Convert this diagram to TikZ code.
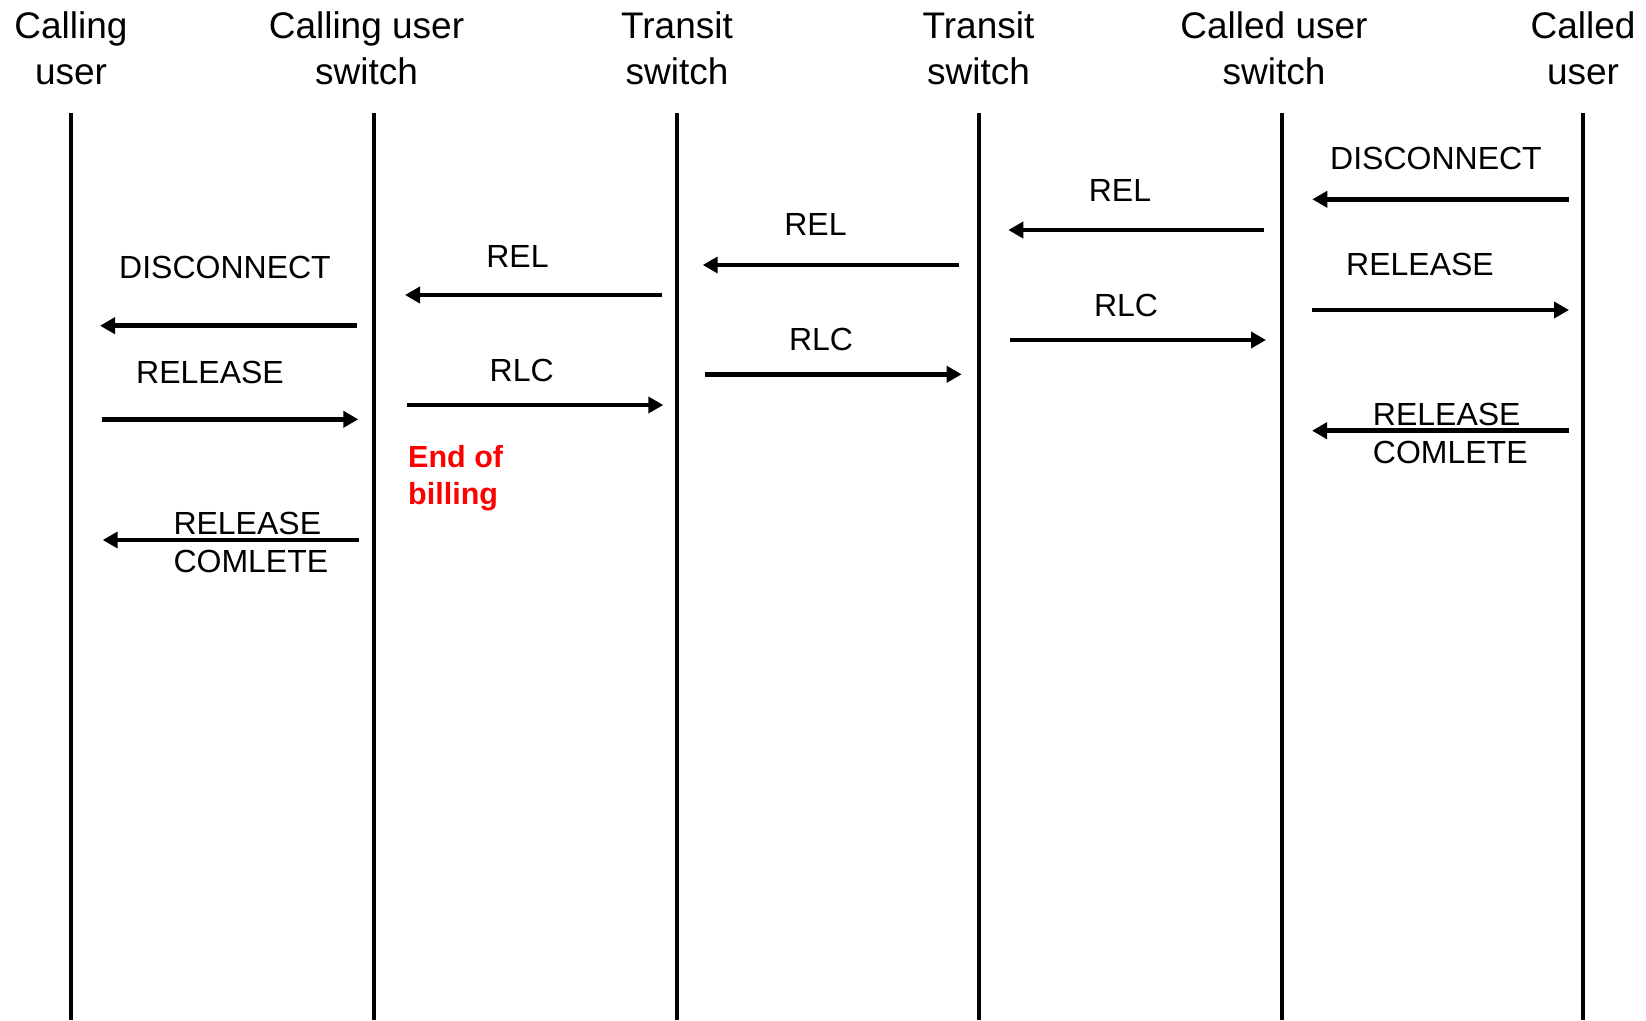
\documentclass[tikz,border=0pt]{standalone}
\usepackage{fontspec}
\setmainfont{Liberation Sans}
\usetikzlibrary{arrows.meta}

\begin{document}
\begin{tikzpicture}[x=1pt,y=-1pt,
    % multi-line nodes: the base anchor sits on the last line's baseline
    hdr/.style={inner sep=0pt,anchor=base,align=center,font=\fontsize{37}{46}\selectfont},
    lbl/.style={inner sep=0pt,anchor=base,font=\fontsize{32}{38.4}\selectfont},
    lbl2/.style={inner sep=0pt,anchor=base west,align=left,font=\fontsize{32}{38.4}\selectfont},
    note/.style={inner sep=0pt,anchor=base west,align=left,text=red,font=\fontsize{30.5}{36.5}\selectfont\bfseries},
    lifeline/.style={line width=4pt},
    msg/.style={line width=4.5pt,-{Triangle[length=15pt,width=16pt]}}]

\useasboundingbox (0,0) rectangle (1646,1020);
\fill[white] (0,0) rectangle (1646,1020);

% lifelines
\foreach \n/\x in {A/71,B/374,C/677,D/978.5,E/1281.5,F/1583}{
  \coordinate (\n top) at (\x,113);
  \coordinate (\n bot) at (\x,1020);
  \draw[lifeline] (\n top) -- (\n bot);
}

% headers
\node[hdr] (hA) at (71,84)     {Calling\\user};
\node[hdr] (hB) at (366.5,84)  {Calling user\\switch};
\node[hdr] (hC) at (677,84)    {Transit\\switch};
\node[hdr] (hD) at (978.5,84)  {Transit\\switch};
\node[hdr] (hE) at (1274,84)   {Called user\\switch};
\node[hdr] (hF) at (1583,84)   {Called\\user};

% message arrows: \msgarrow{name}{x from}{x to}{y}
\newcommand\msgarrow[4]{%
  \coordinate (#1s) at (#2,#4);
  \coordinate (#1e) at (#3,#4);
  \draw[msg] (#1s) -- (#1e);}

% calling user <-> calling user switch
\msgarrow{ab1}{356.7}{100}{325.7}
\msgarrow{ab2}{101.7}{358.3}{419.3}
\msgarrow{ab3}{359.3}{102.7}{540}
\node[lbl] (tab1) at (225,278.3) {DISCONNECT};
\node[lbl] (tab2) at (210,383.3) {RELEASE};
\node[lbl2] (tab3) at (173.3,572.5) {RELEASE\\COMLETE};

% calling user switch <-> transit switch
\msgarrow{bc1}{661.7}{405}{295}
\msgarrow{bc2}{406.7}{663.3}{405}
\node[lbl] (tbc1) at (517.5,267.2) {REL};
\node[lbl] (tbc2) at (521.7,381.2) {RLC};
\node[note] (bill) at (408,504) {End of\\billing};

% transit switch <-> transit switch
\msgarrow{cd1}{959.3}{702.7}{265}
\msgarrow{cd2}{705}{961.7}{374.3}
\node[lbl] (tcd1) at (815.5,235.5) {REL};
\node[lbl] (tcd2) at (821,350.5) {RLC};

% transit switch <-> called user switch
\msgarrow{de1}{1264}{1008.3}{230}
\msgarrow{de2}{1010}{1266}{340}
\node[lbl] (tde1) at (1120,201.7) {REL};
\node[lbl] (tde2) at (1126,316.7) {RLC};

% called user switch <-> called user
\msgarrow{ef1}{1568.7}{1312.3}{199.3}
\msgarrow{ef2}{1312}{1569}{310}
\msgarrow{ef3}{1568.7}{1312}{430.7}
\node[lbl] (tef1) at (1436,169.3) {DISCONNECT};
\node[lbl] (tef2) at (1420,275) {RELEASE};
\node[lbl2] (tef3) at (1372.7,463.7) {RELEASE\\COMLETE};

\end{tikzpicture}
\end{document}
